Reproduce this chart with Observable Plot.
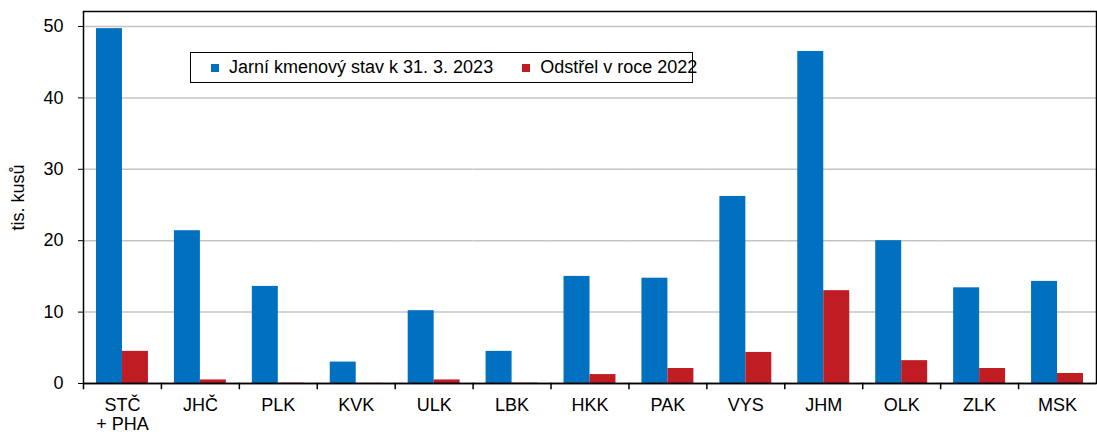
<!DOCTYPE html>
<html><head><meta charset="utf-8">
<script src="https://cdn.jsdelivr.net/npm/d3@7"></script>
<script src="https://cdn.jsdelivr.net/npm/@observablehq/plot@0.6"></script>
<style>
body{margin:0;background:#fff;font-family:Arial,"Liberation Sans",sans-serif}
#wrap{position:relative;width:1097px;height:435px}
#legend{position:absolute;left:190px;top:52px;width:501px;height:29px;border:1.5px solid #000;background:#fff;display:flex;align-items:center;font-size:18px;color:#000;box-sizing:content-box;white-space:nowrap}
#legend .item{display:flex;align-items:center;margin-left:20px}
#legend .item + .item{margin-left:29px}
#legend .sw{width:8px;height:8px;margin-right:10px;flex:none}
</style></head><body><div id="wrap"></div>
<script>
const regions = ["STČ\n+ PHA","JHČ","PLK","KVK","ULK","LBK","HKK","PAK","VYS","JHM","OLK","ZLK","MSK"];
const jarni = [49.7,21.4,13.6,3.0,10.2,4.5,15.0,14.75,26.2,46.5,20.0,13.4,14.3];
const odstrel = [4.5,0.5,0.05,0.02,0.5,0.05,1.25,2.1,4.35,13.0,3.2,2.1,1.4];
const seriesNames = ["Jarní kmenový stav k 31. 3. 2023","Odstřel v roce 2022"];
const colors = ["#0070c0","#c01c24"];
const yTicks = [0,10,20,30,40,50];
const yLabel = "tis. kusů";

const W = 1097, H = 435, mT = 11, mB = 52, mL = 83, mR = 1;
const data = regions.flatMap((r,i)=>[
  {region:r, series:seriesNames[0], value:jarni[i]},
  {region:r, series:seriesNames[1], value:odstrel[i]}
]);

const chart = Plot.plot({
  width:W, height:H, marginLeft:mL, marginTop:mT, marginRight:mR, marginBottom:mB,
  style:{fontFamily:"Arial, 'Liberation Sans', sans-serif", fontSize:"18px", color:"#000", background:"#fff", overflow:"visible"},
  fx:{domain:regions, padding:0, round:false, label:null},
  x:{domain:seriesNames, paddingInner:0, paddingOuter:0.5, round:false, axis:null},
  y:{domain:[0,52.1], label:null},
  color:{domain:seriesNames, range:colors},
  marks:[
    Plot.gridY(yTicks.filter(d=>d>0), {stroke:"#c4c4c4", strokeOpacity:1, strokeWidth:1.5}),
    Plot.barY(data, {fx:"region", x:"series", y:"value", fill:"series"}),
    Plot.frame({anchor:"left", insetTop:H-mT-mB, insetBottom:-5, stroke:"#000", strokeWidth:1.5}),
    Plot.ruleY([0], {stroke:"#000", strokeWidth:1.5}),
    Plot.frame({facet:"super", stroke:"#000", strokeWidth:1.5}),
    Plot.axisY({ticks:yTicks, tickSize:5, tickPadding:15, fontSize:18, label:yLabel, labelAnchor:"center", labelArrow:"none", labelOffset:72}),
    Plot.axisFx({anchor:"bottom", tickSize:0, tickPadding:13, fontSize:18, label:null, lineHeight:1.1})
  ]
});
const wrap = document.getElementById("wrap");
wrap.appendChild(chart);
const legend = document.createElement("div");
legend.id = "legend";
seriesNames.forEach((s,i)=>{
  const it = document.createElement("div"); it.className="item";
  const sw = document.createElement("span"); sw.className="sw"; sw.style.background = colors[i];
  const tx = document.createElement("span"); tx.textContent = s;
  it.appendChild(sw); it.appendChild(tx); legend.appendChild(it);
});
wrap.appendChild(legend);
</script></body></html>
